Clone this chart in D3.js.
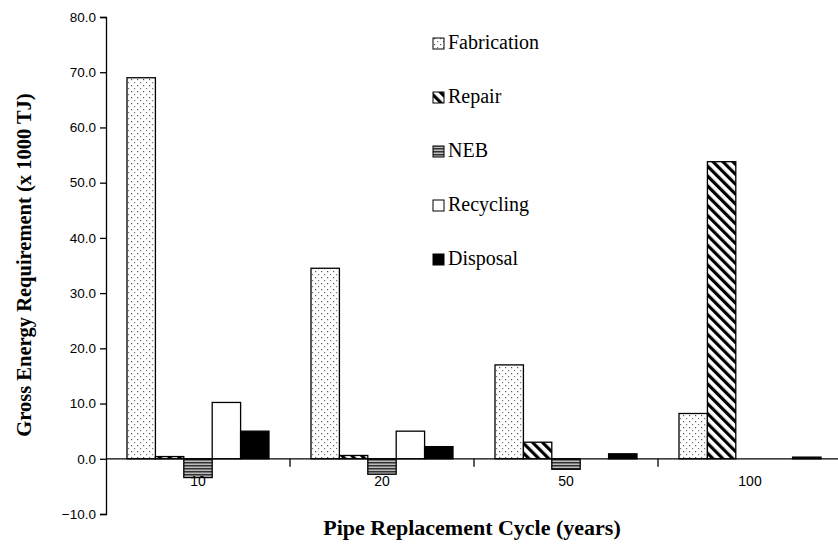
<!DOCTYPE html>
<html>
<head>
<meta charset="utf-8">
<script src="https://cdn.jsdelivr.net/npm/d3@7"></script>
<style>
  body { margin: 0; background: #fff; }
  svg { display: block; }
</style>
</head>
<body>
<div id="chart"></div>
<script>
// data
const cycles = ['10', '20', '50', '100'];
const series = ['Fabrication', 'Repair', 'NEB', 'Recycling', 'Disposal'];
const fabrication = [69.0, 34.5, 17.0, 8.2];
const repair = [0.4, 0.6, 3.0, 53.8];
const neb = [-3.4, -2.8, -1.9, 0.0];
const recycling = [10.2, 5.0, 0.0, 0.0];
const disposal = [5.0, 2.2, 0.9, 0.3];
const yTicks = [-10, 0, 10, 20, 30, 40, 50, 60, 70, 80];

const values = [fabrication, repair, neb, recycling, disposal];

const width = 838;
const height = 544;

const svg = d3.select('#chart')
  .append('svg')
  .attr('width', width)
  .attr('height', height);

const defs = svg.append('defs');

// dotted fill
const dots = defs.append('pattern')
  .attr('id', 'dots')
  .attr('patternUnits', 'userSpaceOnUse')
  .attr('width', 6)
  .attr('height', 6);
dots.append('rect').attr('width', 6).attr('height', 6).attr('fill', '#fff');
dots.append('rect').attr('x', 1).attr('y', 1).attr('width', 1.2).attr('height', 1.2).attr('fill', '#555');
dots.append('rect').attr('x', 4).attr('y', 4).attr('width', 1.2).attr('height', 1.2).attr('fill', '#777');

// backslash stripes
const diag = defs.append('pattern')
  .attr('id', 'diag')
  .attr('patternUnits', 'userSpaceOnUse')
  .attr('width', 7)
  .attr('height', 7)
  .attr('patternTransform', 'rotate(-45)');
diag.append('rect').attr('width', 7).attr('height', 7).attr('fill', '#fff');
diag.append('rect').attr('width', 3.2).attr('height', 7).attr('fill', '#000');

// horizontal lines
const horiz = defs.append('pattern')
  .attr('id', 'horiz')
  .attr('patternUnits', 'userSpaceOnUse')
  .attr('width', 4)
  .attr('height', 3);
horiz.append('rect').attr('width', 4).attr('height', 3).attr('fill', '#bbb');
horiz.append('rect').attr('width', 4).attr('height', 1.5).attr('fill', '#333');

const fills = {
  Fabrication: 'url(#dots)',
  Repair: 'url(#diag)',
  NEB: 'url(#horiz)',
  Recycling: '#fff',
  Disposal: '#000'
};

const x0 = d3.scaleBand()
  .domain(cycles)
  .range([106, 842]);

const x1 = d3.scaleBand()
  .domain(series)
  .range([0, x0.bandwidth()])
  .paddingOuter(0.74);

const y = d3.scaleLinear()
  .domain([-10, 80])
  .range([514, 17]);

// bars
const groups = svg.append('g')
  .selectAll('g')
  .data(cycles)
  .enter()
  .append('g')
  .attr('transform', (d) => `translate(${x0(d)},0)`);

groups.selectAll('rect')
  .data((c, i) => series.map((s, j) => ({ s, v: values[j][i] })))
  .enter()
  .filter((d) => d.v !== 0)
  .append('rect')
  .attr('x', (d) => x1(d.s))
  .attr('width', x1.bandwidth())
  .attr('y', (d) => y(Math.max(0, d.v)))
  .attr('height', (d) => Math.abs(y(d.v) - y(0)))
  .attr('fill', (d) => fills[d.s])
  .attr('stroke', '#000')
  .attr('stroke-width', 1.3);

// y axis
const yAxis = svg.append('g')
  .attr('transform', 'translate(106,0)')
  .call(d3.axisLeft(y).tickValues(yTicks).tickSize(6).tickFormat(d3.format('.1f')));
yAxis.select('.domain').attr('stroke', '#000').attr('stroke-width', 1.3);
yAxis.selectAll('.tick line').attr('stroke', '#000').attr('stroke-width', 1.3);
yAxis.selectAll('.tick text')
  .attr('x', -10)
  .style('font-family', '"Liberation Sans", Arial, sans-serif')
  .style('font-size', '13.5px')
  .attr('fill', '#000');

// x axis along zero
const xAxis = svg.append('g')
  .attr('transform', `translate(0,${y(0)})`);
xAxis.append('line')
  .attr('x1', 106)
  .attr('x2', 842)
  .attr('stroke', '#000')
  .attr('stroke-width', 1.3);
xAxis.selectAll('line.sep')
  .data(cycles.slice(1))
  .enter()
  .append('line')
  .attr('class', 'sep')
  .attr('x1', (d) => x0(d))
  .attr('x2', (d) => x0(d))
  .attr('y1', 0)
  .attr('y2', 8)
  .attr('stroke', '#000')
  .attr('stroke-width', 1.3);
xAxis.selectAll('text')
  .data(cycles)
  .enter()
  .append('text')
  .attr('x', (d) => x0(d) + x0.bandwidth() / 2)
  .attr('y', 27)
  .attr('text-anchor', 'middle')
  .style('font-family', '"Liberation Sans", Arial, sans-serif')
  .style('font-size', '14px')
  .text((d) => d);

// axis titles
svg.append('text')
  .attr('x', 472)
  .attr('y', 535)
  .attr('text-anchor', 'middle')
  .style('font-family', '"Liberation Serif", "Times New Roman", serif')
  .style('font-weight', 'bold')
  .style('font-size', '22px')
  .text('Pipe Replacement Cycle (years)');

svg.append('text')
  .attr('transform', 'translate(31,265) rotate(-90)')
  .attr('text-anchor', 'middle')
  .style('font-family', '"Liberation Serif", "Times New Roman", serif')
  .style('font-weight', 'bold')
  .style('font-size', '20.5px')
  .text('Gross Energy Requirement (x 1000 TJ)');

// legend
const legend = svg.append('g')
  .selectAll('g')
  .data(series)
  .enter()
  .append('g')
  .attr('transform', (d, i) => `translate(433,${43 + i * 54})`);

legend.append('rect')
  .attr('x', 0)
  .attr('y', -5)
  .attr('width', 11)
  .attr('height', 11)
  .attr('fill', (d) => fills[d])
  .attr('stroke', '#000')
  .attr('stroke-width', 1);

legend.append('text')
  .attr('x', 15)
  .attr('y', 6)
  .style('font-family', '"Liberation Serif", "Times New Roman", serif')
  .style('font-size', '20px')
  .text((d) => d);
</script>
</body>
</html>
